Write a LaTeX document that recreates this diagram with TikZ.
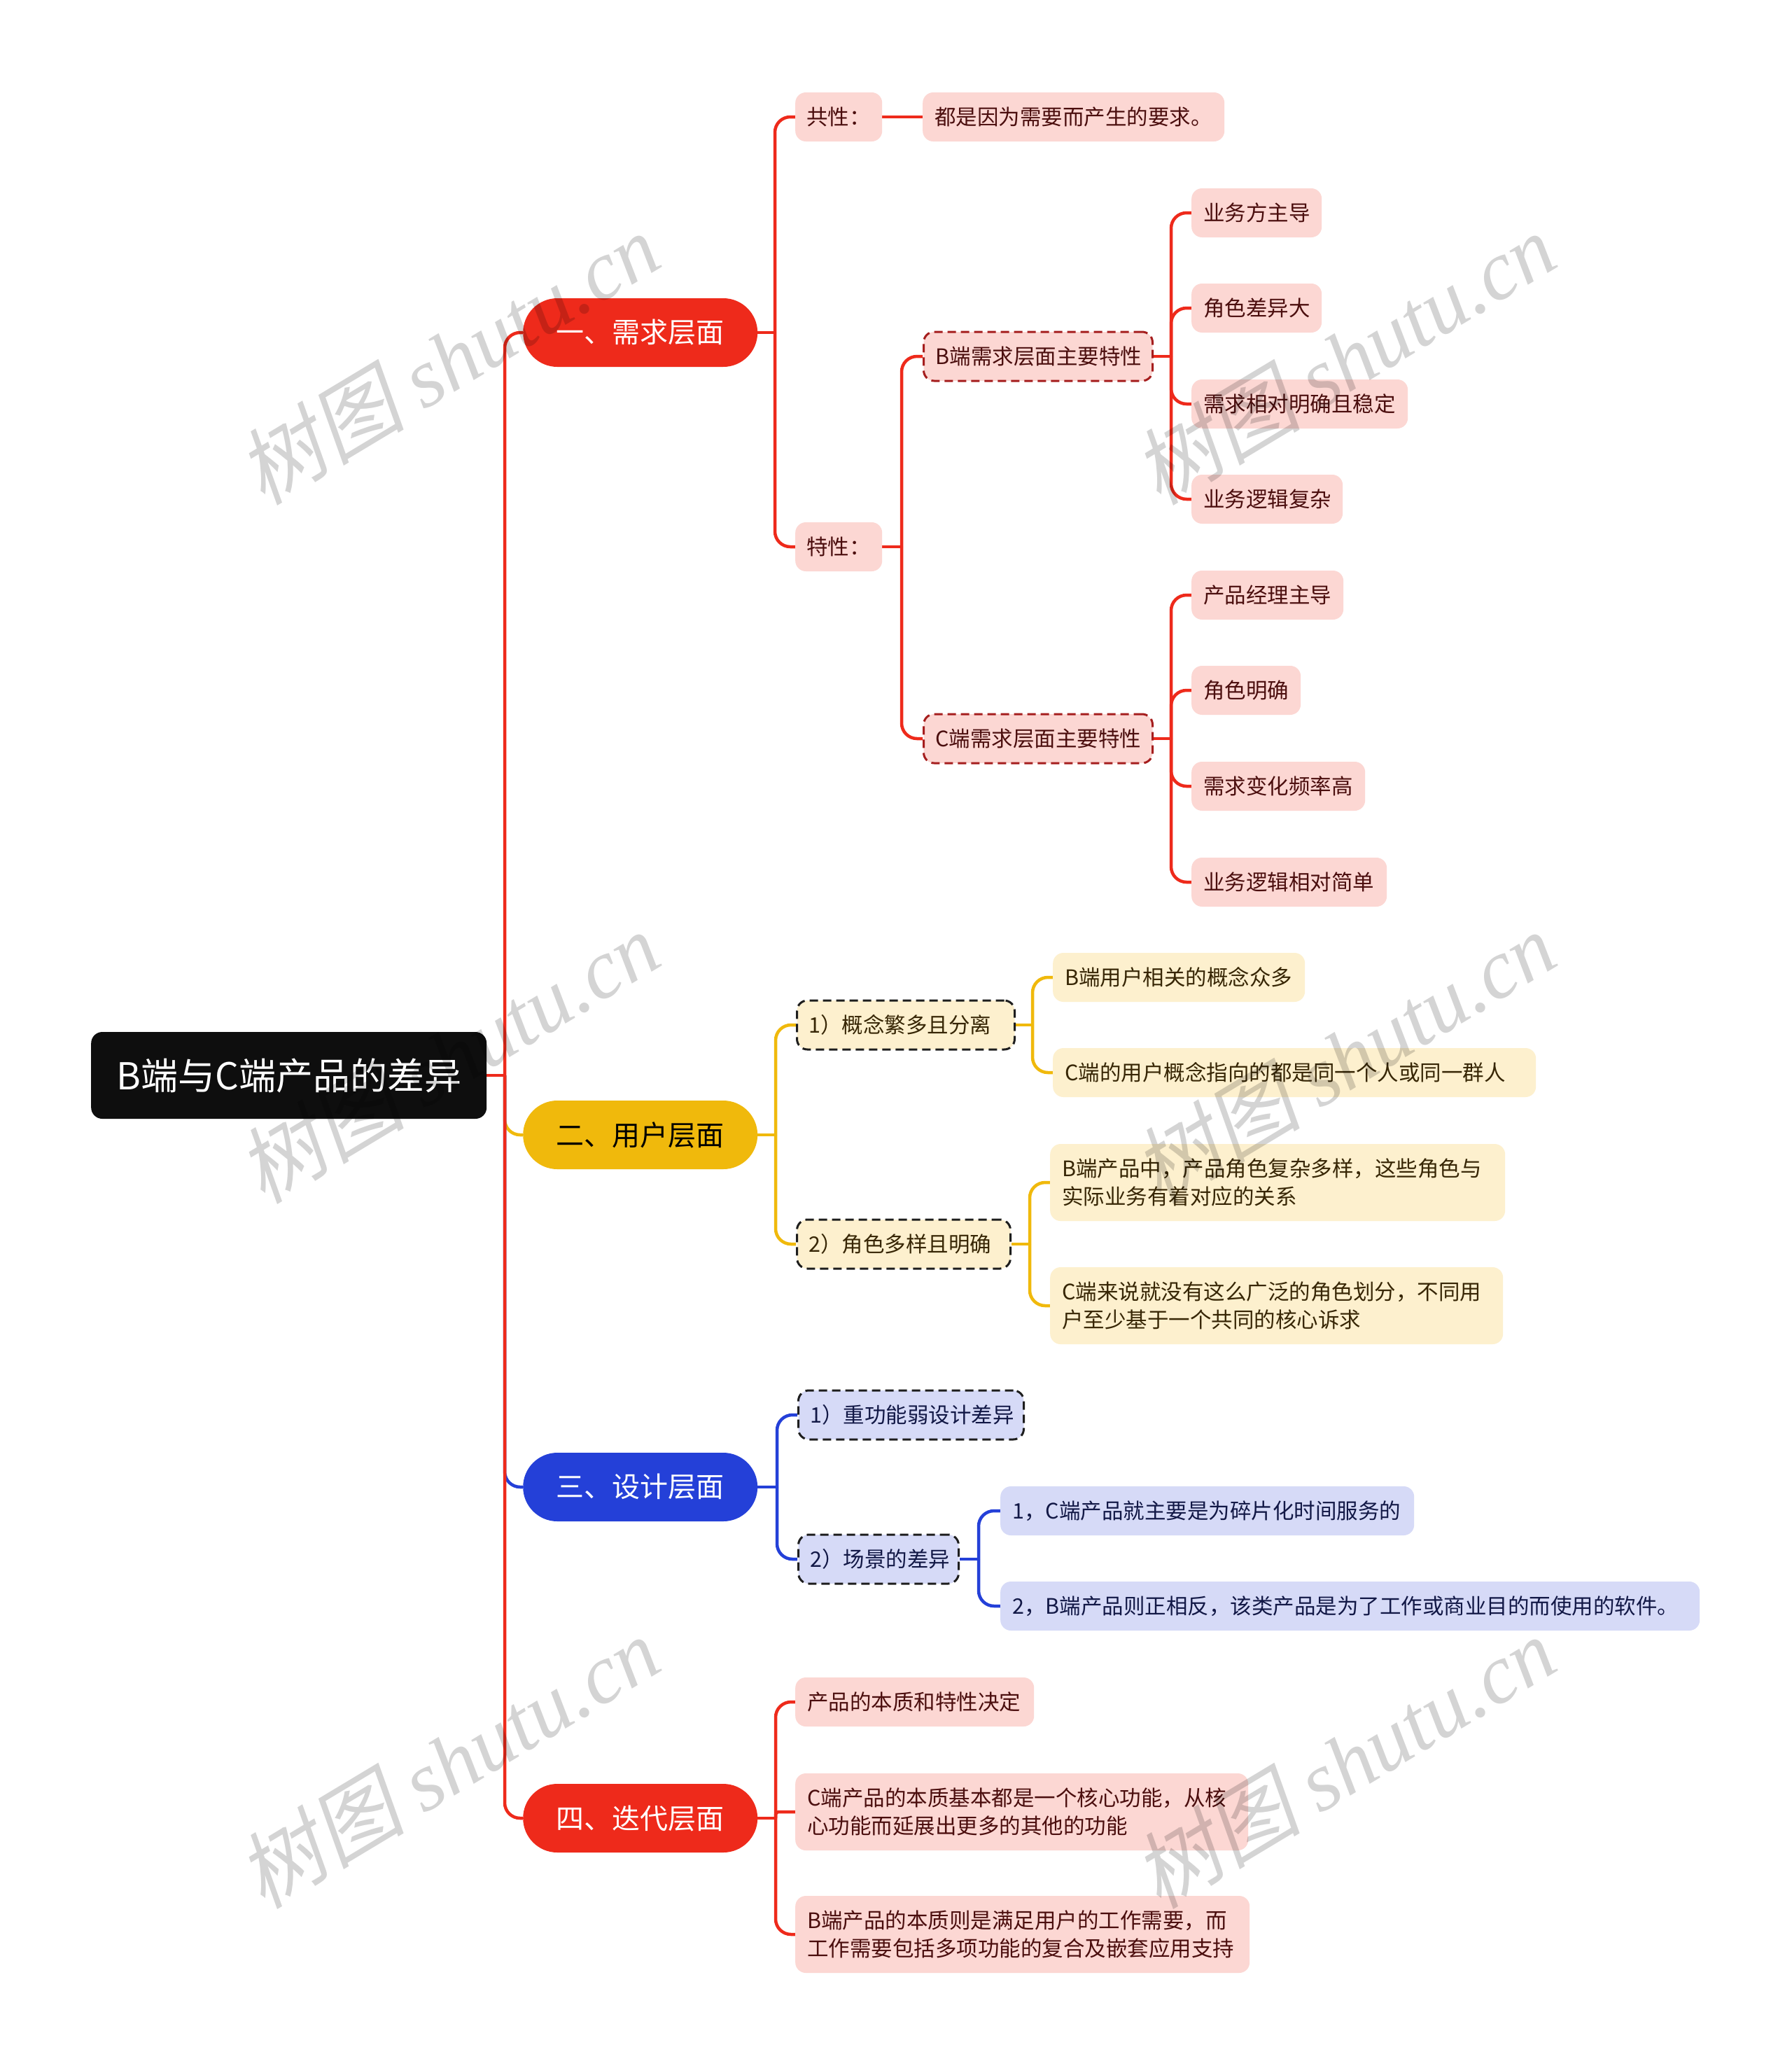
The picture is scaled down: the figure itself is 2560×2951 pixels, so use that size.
\documentclass[tikz,border=0pt]{standalone}
\usepackage{fontspec}
\setmainfont{Noto Sans CJK SC}
\newfontfamily\wmlat{Liberation Serif}
\newfontfamily\wmcjk[FakeSlant=0.2]{Noto Sans CJK SC}
\usetikzlibrary{backgrounds}
\definecolor{cred}{RGB}{238,42,27}
\definecolor{lred}{RGB}{252,215,211}
\definecolor{tred}{RGB}{75,14,14}
\definecolor{dred}{RGB}{165,30,30}
\definecolor{cyel}{RGB}{240,185,12}
\definecolor{lyel}{RGB}{253,240,206}
\definecolor{tyel}{RGB}{55,38,5}
\definecolor{cblu}{RGB}{36,64,216}
\definecolor{lblu}{RGB}{214,218,247}
\definecolor{tblu}{RGB}{18,24,70}
\definecolor{croot}{RGB}{14,14,14}
\definecolor{dgrey}{RGB}{30,30,30}
\tikzset{
  base/.style={inner xsep=17pt, inner ysep=0pt, anchor=west, rounded corners=15pt,
    font=\fontsize{30.5}{40}\selectfont, minimum height=70pt, align=left},
  ctr/.style={inner xsep=0pt, align=center},
  multi/.style={minimum height=110pt},
  dashbox/.style={line width=3pt, dash pattern=on 12pt off 7pt},
  leafR/.style={base, fill=lred, text=tred},
  leafY/.style={base, fill=lyel, text=tyel},
  leafB/.style={base, fill=lblu, text=tblu},
  dashR/.style={leafR, dashbox, draw=dred},
  dashY/.style={leafY, dashbox, draw=dgrey},
  dashB/.style={leafB, dashbox, draw=dgrey},
  lone/.style={anchor=west, inner sep=0pt, minimum width=335pt, minimum height=98pt,
    rounded corners=49pt, font=\fontsize{40}{40}\selectfont},
  rootbox/.style={anchor=west, inner sep=0pt, minimum width=565pt, minimum height=124pt,
    rounded corners=16pt, fill=croot, text=white, font=\fontsize{53}{53}\selectfont},
  conn/.style={line width=4.5pt, rounded corners=22pt},
  wm/.style={rotate=31, font=\fontsize{120}{120}\selectfont, text=black, text opacity=0.17, inner sep=0pt},
}
\begin{document}
\begin{tikzpicture}[x=1pt, y=-1pt]
\useasboundingbox (0,0) rectangle (2560,2951);

% root and first level
\node[rootbox] (root) at (130,1536) {B端与C端产品的差异};
\node[lone, fill=cred, text=white] (n1) at (747,475) {一、需求层面};
\node[lone, fill=cyel, text=black] (n2) at (747,1621) {二、用户层面};
\node[lone, fill=cblu, text=white] (n3) at (747,2124) {三、设计层面};
\node[lone, fill=cred, text=white] (n4) at (747,2597) {四、迭代层面};

% branch 1
\node[leafR, ctr, minimum width=124pt] (gx) at (1136,167) {共性：};
\node[leafR, text width=397pt] (gxd) at (1318,167) {都是因为需要而产生的要求。};
\node[leafR, ctr, minimum width=124pt] (tx) at (1136,781) {特性：};
\node[dashR, text width=293pt] (bt) at (1318,509) {B端需求层面主要特性};
\node[dashR, text width=293pt] (ct) at (1318,1055) {C端需求层面主要特性};
\node[leafR, text width=152pt] (ba) at (1702,304) {业务方主导};
\node[leafR, text width=152pt] (bb) at (1702,440) {角色差异大};
\node[leafR, text width=275pt] (bc) at (1702,577) {需求相对明确且稳定};
\node[leafR, text width=182pt] (bd) at (1702,713) {业务逻辑复杂};
\node[leafR, text width=183pt] (ca) at (1702,850) {产品经理主导};
\node[leafR, text width=122pt] (cb) at (1702,986) {角色明确};
\node[leafR, text width=214pt] (cc) at (1702,1123) {需求变化频率高};
\node[leafR, text width=245pt] (cd) at (1702,1260) {业务逻辑相对简单};

% branch 2
\node[dashY, text width=277pt] (y1) at (1137,1464) {1）概念繁多且分离};
\node[dashY, text width=271pt] (y2) at (1137,1777) {2）角色多样且明确};
\node[leafY, text width=326pt] (y11) at (1504,1396) {B端用户相关的概念众多};
\node[leafY, text width=656pt] (y12) at (1504,1532) {C端的用户概念指向的都是同一个人或同一群人};
\node[leafY, multi, text width=616pt] (y21) at (1500,1689) {B端产品中，产品角色复杂多样，这些角色与\\实际业务有着对应的关系};
\node[leafY, multi, text width=613pt] (y22) at (1500,1865) {C端来说就没有这么广泛的角色划分，不同用\\户至少基于一个共同的核心诉求};

% branch 3
\node[dashB, text width=288pt] (d1) at (1139,2021) {1）重功能弱设计差异};
\node[dashB, text width=195pt] (d2) at (1139,2227) {2）场景的差异};
\node[leafB, text width=557pt] (d21) at (1429,2158) {1，C端产品就主要是为碎片化时间服务的};
\node[leafB, text width=965pt] (d22) at (1429,2294) {2，B端产品则正相反，该类产品是为了工作或商业目的而使用的软件。};

% branch 4
\node[leafR, text width=307pt] (r1) at (1136,2431) {产品的本质和特性决定};
\node[leafR, multi, text width=613pt] (r2) at (1136,2588) {C端产品的本质基本都是一个核心功能，从核\\心功能而延展出更多的其他的功能};
\node[leafR, multi, text width=615pt] (r3) at (1136,2763) {B端产品的本质则是满足用户的工作需要，而\\工作需要包括多项功能的复合及嵌套应用支持};

% junction points
\coordinate (tr) at (721,1536);
\coordinate (j1) at (1107,475);
\coordinate (j2) at (1288,781);
\coordinate (jb) at (1673,509);
\coordinate (jc) at (1673,1055);
\coordinate (k1) at (1108,1621);
\coordinate (k2) at (1475,1464);
\coordinate (k3) at (1471,1777);
\coordinate (m1) at (1110,2124);
\coordinate (m2) at (1398,2227);
\coordinate (p1) at (1108,2597);

\begin{scope}[on background layer]
  \fill[white] (0,0) rectangle (2560,2951);
  \draw[conn, cyel] (tr) |- (n2.west);
  \draw[conn, cblu] (tr) |- (n3.west);
  \draw[conn, cred] (root.east) -- (tr);
  \draw[conn, cred] (tr) |- (n1.west);
  \draw[conn, cred] (tr) |- (n4.west);
  % branch 1
  \draw[conn, cred] (n1.east) -- (j1);
  \draw[conn, cred] (j1) |- (gx.west);
  \draw[conn, cred] (j1) |- (tx.west);
  \draw[conn, cred] (gx.east) -- (gxd.west);
  \draw[conn, cred] (tx.east) -- (j2);
  \draw[conn, cred] (j2) |- (bt.west);
  \draw[conn, cred] (j2) |- (ct.west);
  \draw[conn, cred] (bt.east) -- (jb);
  \foreach \c in {ba,bb,bc,bd} \draw[conn, cred] (jb) |- (\c.west);
  \draw[conn, cred] (ct.east) -- (jc);
  \foreach \c in {ca,cb,cc,cd} \draw[conn, cred] (jc) |- (\c.west);
  % branch 2
  \draw[conn, cyel] (n2.east) -- (k1);
  \draw[conn, cyel] (k1) |- (y1.west);
  \draw[conn, cyel] (k1) |- (y2.west);
  \draw[conn, cyel] (y1.east) -- (k2);
  \draw[conn, cyel] (k2) |- (y11.west);
  \draw[conn, cyel] (k2) |- (y12.west);
  \draw[conn, cyel] (y2.east) -- (k3);
  \draw[conn, cyel] (k3) |- (y21.west);
  \draw[conn, cyel] (k3) |- (y22.west);
  % branch 3
  \draw[conn, cblu] (n3.east) -- (m1);
  \draw[conn, cblu] (m1) |- (d1.west);
  \draw[conn, cblu] (m1) |- (d2.west);
  \draw[conn, cblu] (d2.east) -- (m2);
  \draw[conn, cblu] (m2) |- (d21.west);
  \draw[conn, cblu] (m2) |- (d22.west);
  % branch 4
  \draw[conn, cred] (n4.east) -- (p1);
  \draw[conn, cred] (p1) |- (r1.west);
  \draw[conn, cred, rounded corners=4pt] (p1) |- (r2.west);
  \draw[conn, cred] (p1) |- (r3.west);
\end{scope}

% watermarks
\foreach \wx/\wy [count=\i] in {640/512, 1920/512, 640/1510, 1920/1510, 640/2517, 1920/2517}
  \node[wm] (wm\i) at (\wx,\wy) {{\wmcjk 树图} {\wmlat\itshape shutu.cn}};
\end{tikzpicture}
\end{document}
